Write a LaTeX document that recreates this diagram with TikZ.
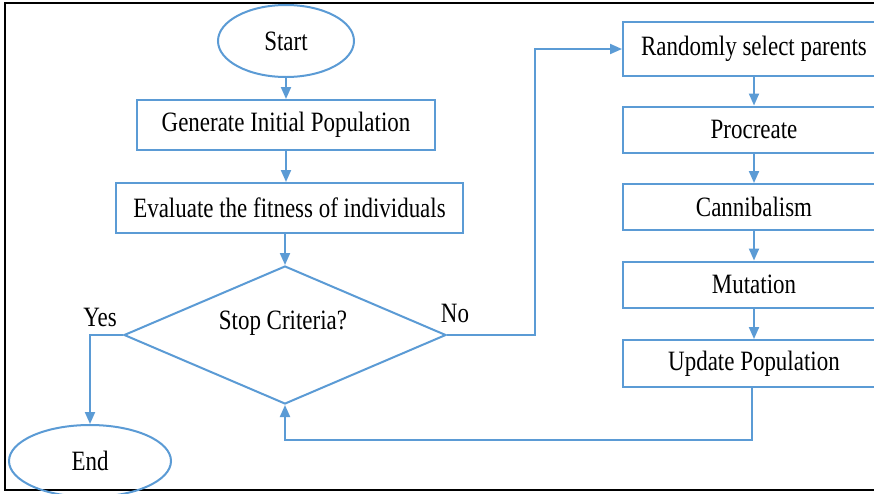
\documentclass[tikz,border=0pt]{standalone}
\usepackage{fontspec}
\setmainfont{Liberation Serif}[FakeStretch=0.82]
\usetikzlibrary{arrows.meta,shapes.geometric}
\definecolor{fblue}{RGB}{91,155,213}
\tikzset{
  fline/.style={draw=fblue, line width=2pt},
  arr/.style={fline, -{Triangle[length=12pt,width=10pt]}},
  boxnode/.style={fline, rectangle, inner sep=0pt, font=\fontsize{28}{32}\selectfont},
  ovalnode/.style={fline, ellipse, inner sep=0pt, font=\fontsize{28}{32}\selectfont},
  txt/.style={inner sep=0pt, font=\fontsize{28}{32}\selectfont},
}
\begin{document}
\begin{tikzpicture}[x=1pt,y=-1pt]
\useasboundingbox (0,0) rectangle (874,493);
\clip (0,0) rectangle (874,493);
\fill[white] (0,0) rectangle (874,493);
% frame
\draw[black, line width=1.5pt] (874,3) -- (5,3) -- (5,490) -- (874,490);
% left column
\node[ovalnode, minimum width=136pt, minimum height=72pt] (start) at (286,41) {Start};
\node[boxnode, minimum width=298pt, minimum height=50pt] (gen) at (286,125) {Generate Initial Population};
\node[boxnode, minimum width=347pt, minimum height=50pt] (eval) at (289.5,208) {Evaluate the fitness of individuals};
\node[fline, diamond, minimum width=322pt, minimum height=138pt, inner sep=0pt, aspect=2.33] (dia) at (285,335) {};
\node[txt] (stoptxt) at (283,323) {Stop Criteria?};
\node[txt] (yes) at (100,317) {Yes};
\node[txt] (no) at (455,313) {No};
\node[ovalnode, minimum width=162pt, minimum height=72pt] (end) at (90,461) {End};
% right column
\node[boxnode, minimum width=262pt, minimum height=54pt] (sel) at (754,49) {Randomly select parents};
\node[boxnode, minimum width=262pt, minimum height=46pt] (proc) at (754,129.5) {Procreate};
\node[boxnode, minimum width=262pt, minimum height=46pt] (cann) at (754,207) {Cannibalism};
\node[boxnode, minimum width=262pt, minimum height=46pt] (mut) at (754,284.5) {Mutation};
\node[boxnode, minimum width=262pt, minimum height=47pt] (upd) at (754,363.5) {Update Population};
\coordinate (nocorner) at (535,335);
\coordinate (yescorner) at (90,335);
\coordinate (backcorner) at (752,440);
% connectors
\draw[arr] (start) -- (start |- gen.north);
\draw[arr] (gen) -- (gen |- eval.north);
\draw[arr] (eval.south -| dia.north) -- (dia.north);
\draw[arr] (dia.west) -- (yescorner) -- (end.north);
\draw[arr] (dia.east) -- (nocorner) -- (nocorner |- sel.west) -- (sel.west);
\draw[arr] (sel) -- (sel |- proc.north);
\draw[arr] (proc) -- (proc |- cann.north);
\draw[arr] (cann) -- (cann |- mut.north);
\draw[arr] (mut) -- (mut |- upd.north);
\draw[arr] (upd.south -| backcorner) -- (backcorner) -- (backcorner -| dia.south) -- (dia.south);
\end{tikzpicture}
\end{document}
